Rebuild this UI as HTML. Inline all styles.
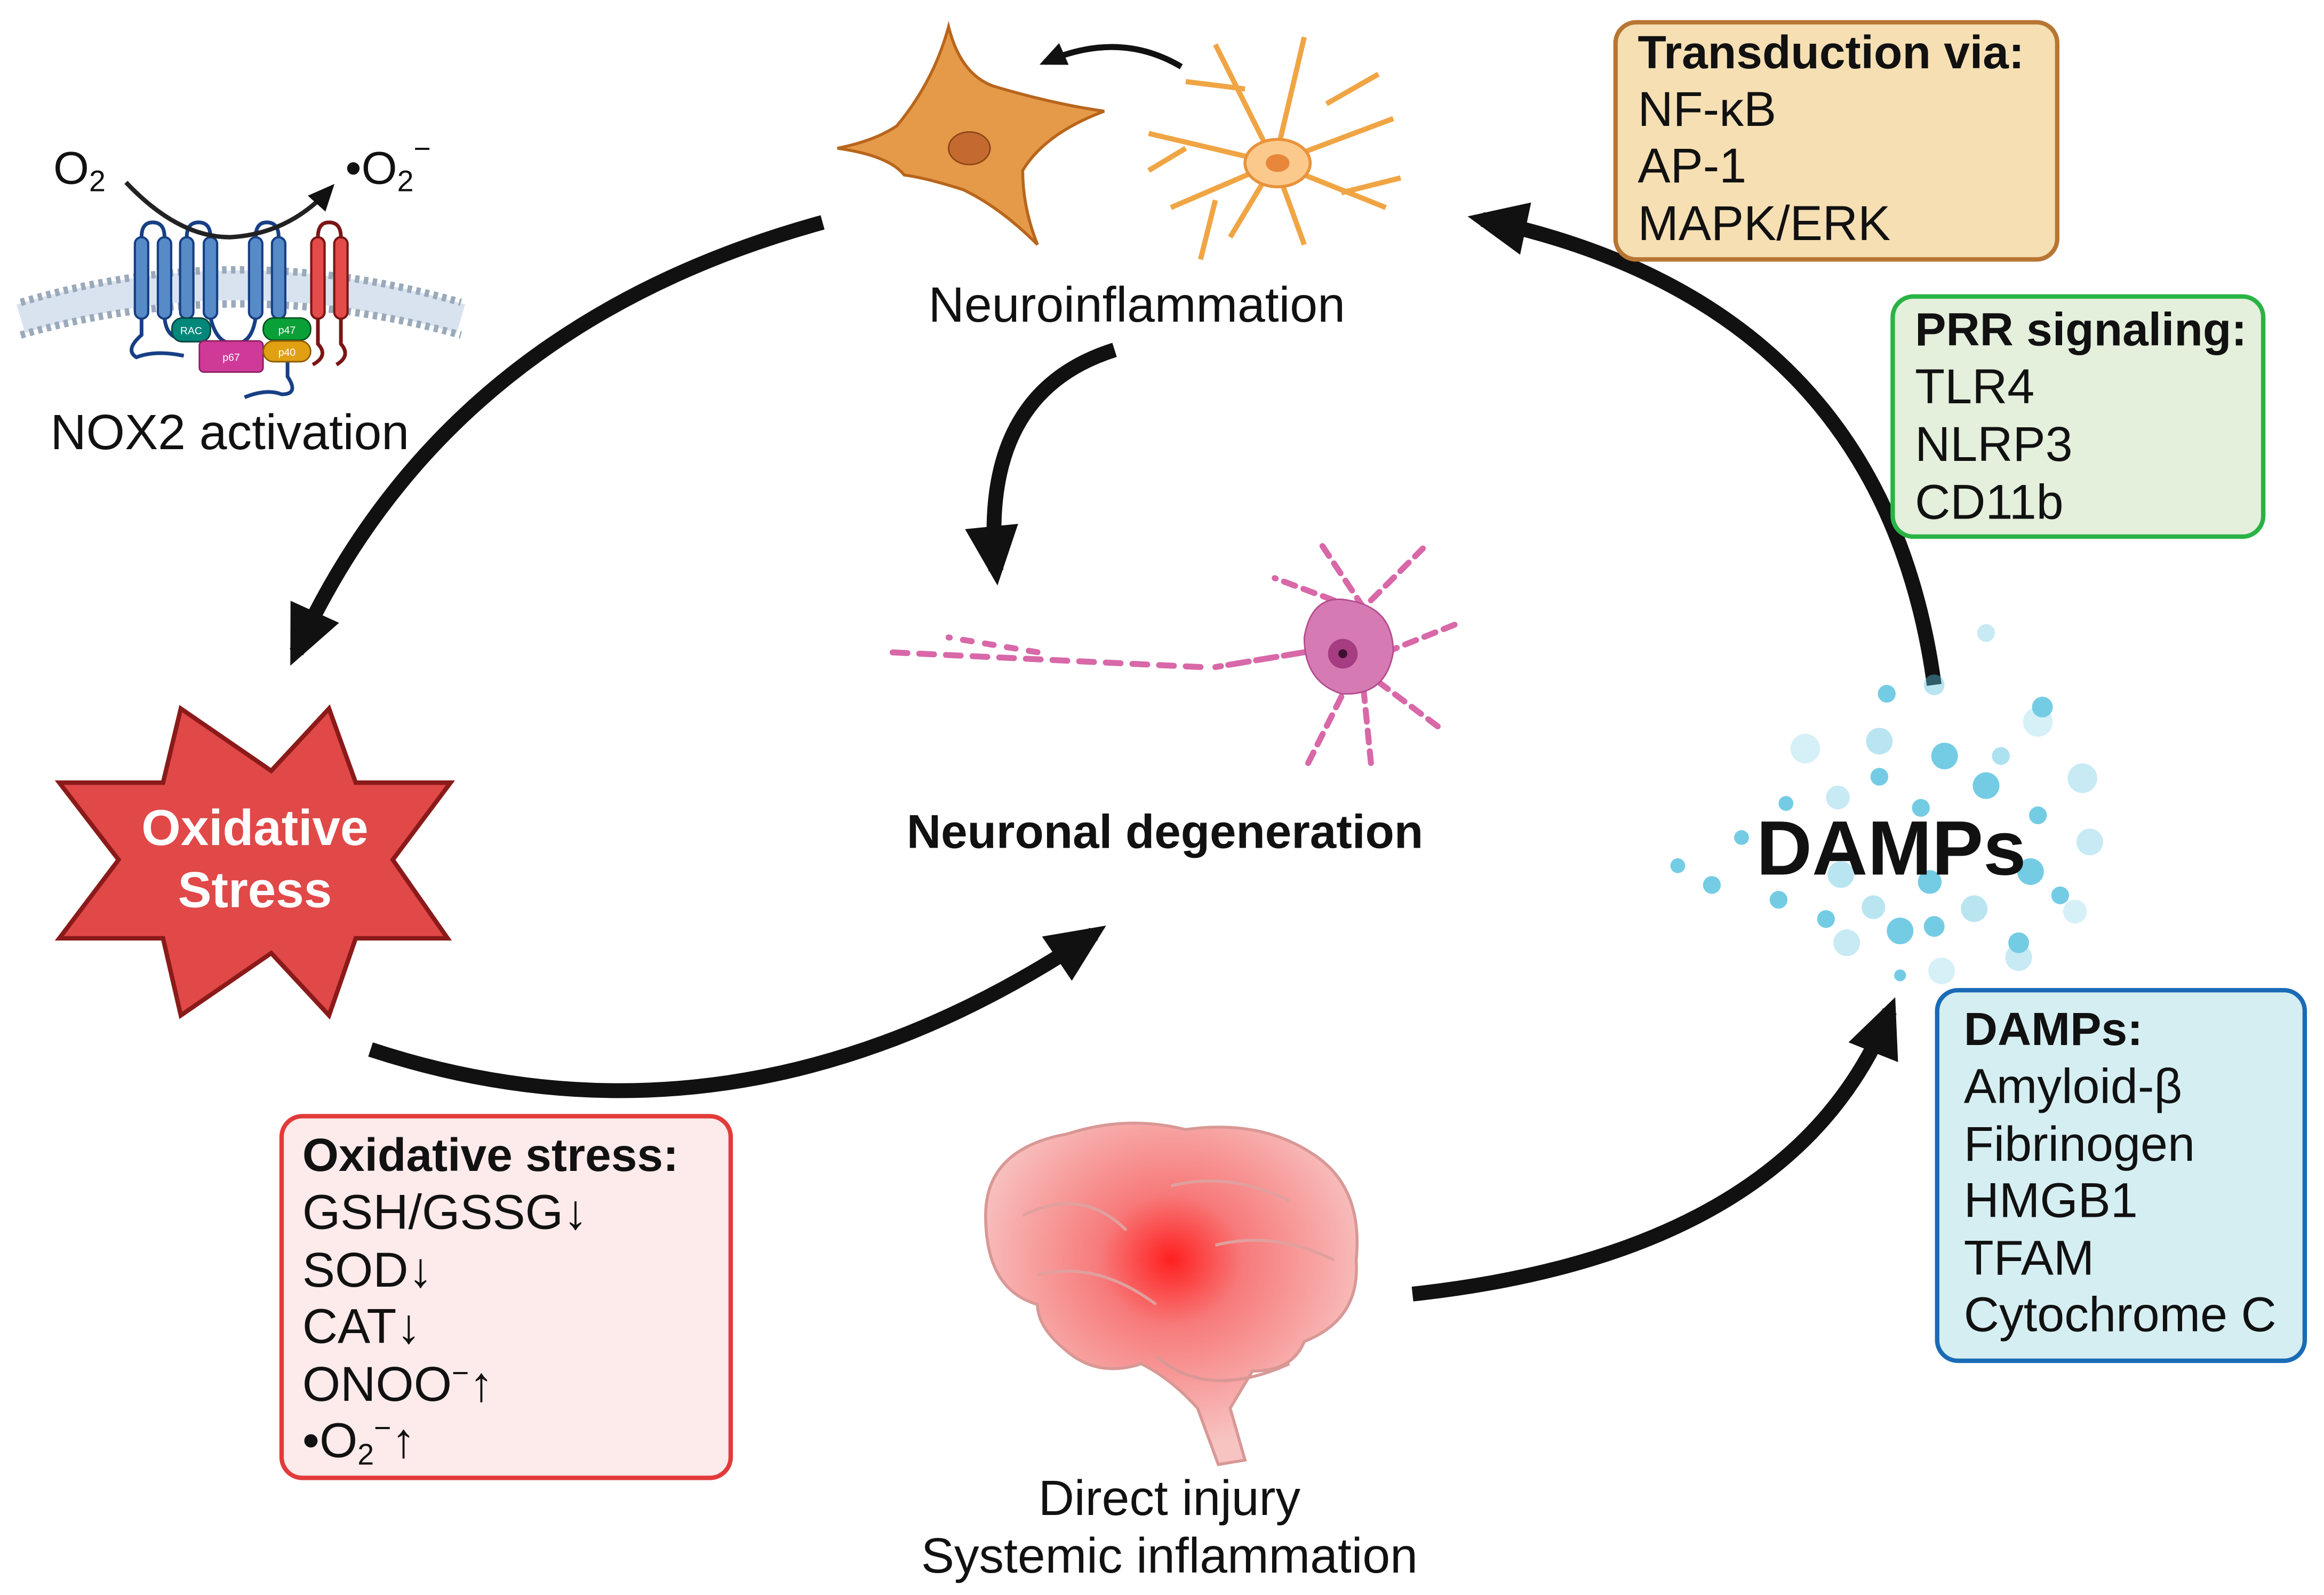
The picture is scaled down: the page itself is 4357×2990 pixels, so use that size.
<!DOCTYPE html>
<html><head><meta charset="utf-8"><style>
html,body{margin:0;padding:0;background:#fff;}
svg{display:block;}
text{font-family:"Liberation Sans",sans-serif;fill:#111;}
</style></head><body>
<svg width="4357" height="2990" viewBox="0 0 1568 1076" xmlns="http://www.w3.org/2000/svg">
<defs>
<marker id="ah" markerUnits="userSpaceOnUse" markerWidth="44" markerHeight="44" refX="30" refY="22" orient="auto">
<path d="M0,4 L40,22 L0,40 Z" fill="#111"/></marker>
<marker id="ah2" markerUnits="userSpaceOnUse" markerWidth="20" markerHeight="20" refX="14" refY="10" orient="auto">
<path d="M0,2 L18,10 L0,18 Z" fill="#111"/></marker>
<radialGradient id="br" cx="0.5" cy="0.4" r="0.55">
<stop offset="0" stop-color="#ff2020"/><stop offset="0.35" stop-color="#f77a7a"/><stop offset="1" stop-color="#f7c4c2"/></radialGradient>
</defs>

<!-- big arrows -->
<g fill="none" stroke="#111" stroke-width="10">
<path d="M555,150 Q300,220 200,440" marker-end="url(#ah)"/>
<path d="M752,236 Q660,265 672,385" marker-end="url(#ah)"/>
<path d="M250,708 Q500,790 738,630" marker-end="url(#ah)"/>
<path d="M953,873 Q1210,845 1275,682" marker-end="url(#ah)"/>
<path d="M1305,462 Q1270,205 1000,148" marker-end="url(#ah)"/>
</g>
<path d="M797,45 Q755,20 705,42" fill="none" stroke="#111" stroke-width="4" marker-end="url(#ah2)"/>

<!-- NOX2 membrane -->
<g>
<path d="M14,215 Q160,170 311,215" fill="none" stroke="#c9d7ea" stroke-width="20" opacity="0.7"/>
<path d="M14,204 Q160,160 311,204" fill="none" stroke="#9aaabb" stroke-width="5" stroke-dasharray="3 3"/>
<path d="M14,226 Q160,184 311,226" fill="none" stroke="#9aaabb" stroke-width="5" stroke-dasharray="3 3"/>
<g fill="none" stroke="#173f85" stroke-width="2.5">
<path d="M95.5,160 Q95.5,150 103,150 Q111,150 111,160"/><path d="M126,160 Q126,150 134,150 Q142,150 142,160"/>
<path d="M172.5,160 Q172.5,150 180,150 Q188,150 188,160"/>
<path d="M95.5,214 L95.5,226 Q84,236 92,241 Q105,236 124,240"/>
<path d="M111,214 Q112,226 120,228"/>
<path d="M142,214 Q146,232 158,232 Q170,232 172.5,214"/>
<path d="M194,244 L194,254 Q202,266 190,266 Q180,262 165,268"/></g>
<g fill="none" stroke="#7b1515" stroke-width="2.5">
<path d="M214.5,160 Q214.5,150 222,150 Q230,150 230,160"/>
<path d="M214.5,214 L214.5,232 Q222,240 211,246"/><path d="M230,214 L230,232 Q237,240 227,246"/></g>
<g fill="#568bc7" stroke="#173f85" stroke-width="1.5">
<rect x="91" y="160" width="9" height="55" rx="4.5"/><rect x="106.5" y="160" width="9" height="55" rx="4.5"/>
<rect x="121.5" y="160" width="9" height="55" rx="4.5"/><rect x="137.5" y="160" width="9" height="55" rx="4.5"/>
<rect x="168" y="160" width="9" height="55" rx="4.5"/><rect x="183.5" y="160" width="9" height="55" rx="4.5"/></g>
<g fill="#e44b4b" stroke="#7b1515" stroke-width="1.5">
<rect x="210" y="160" width="9" height="55" rx="4.5"/><rect x="225.5" y="160" width="9" height="55" rx="4.5"/></g>
<rect x="116" y="214.5" width="26" height="16" rx="7" fill="#00877a" stroke="#04443d"/>
<text x="129" y="225.5" font-size="7" text-anchor="middle" style="fill:#fff">RAC</text>
<rect x="134.5" y="230" width="43" height="21" rx="3" fill="#cf3a99" stroke="#8a1f5f"/>
<text x="156" y="243.5" font-size="7" text-anchor="middle" style="fill:#fff">p67</text>
<rect x="177.6" y="214.5" width="32" height="15" rx="7" fill="#0aa038" stroke="#05531c"/>
<text x="193.6" y="225" font-size="7" text-anchor="middle" style="fill:#fff">p47</text>
<rect x="177.6" y="230" width="32" height="14" rx="7" fill="#e0a012" stroke="#8e5a07"/>
<text x="193.6" y="240" font-size="7" text-anchor="middle" style="fill:#fff">p40</text>
</g>
<path d="M85,123 Q120,160 155,160 Q195,158 223,127" fill="none" stroke="#222" stroke-width="3" marker-end="url(#ah2)"/>
<text x="36" y="124" font-size="31">O<tspan font-size="20" dy="5">2</tspan></text>
<text x="233" y="124" font-size="31">•O<tspan font-size="20" dy="5">2</tspan><tspan font-size="20" dy="-22">−</tspan></text>
<text x="34" y="303" font-size="33.5">NOX2 activation</text>

<!-- glial cells -->
<g fill="#e59a4a" stroke="#b8651c" stroke-width="2">
<path d="M605,85 Q630,55 640,18 Q648,50 670,58 Q710,70 745,75 Q705,90 690,115 Q690,140 700,165 Q675,140 650,128 Q625,120 610,118 Q600,105 565,100 Q590,95 605,85 Z"/>
</g>
<ellipse cx="654" cy="100" rx="14" ry="11" fill="#c46a30" stroke="#8e4515"/>
<g fill="none" stroke="#f0a545" stroke-width="3.5">
<path d="M860,110 L820,30 M860,110 L880,25 M860,110 L940,80 M860,110 L935,140 M860,110 L880,165 M860,110 L830,160 M860,110 L790,140 M860,110 L775,90 M840,60 L800,55 M895,70 L930,50 M905,130 L945,120 M820,135 L810,175 M800,100 L775,115"/>
</g>
<ellipse cx="862" cy="110" rx="22" ry="16" fill="#fbc98c" stroke="#e8923a" stroke-width="2"/>
<ellipse cx="862" cy="110" rx="8" ry="6" fill="#e8873a"/>
<text x="767" y="217" font-size="33.5" text-anchor="middle">Neuroinflammation</text>

<!-- degenerating neuron -->
<g fill="none" stroke="#d868a8" stroke-width="4" stroke-linecap="round">
<path d="M880,440 L820,450" stroke-dasharray="14 5"/>
<path d="M810,450 L600,440" stroke-dasharray="10 8"/>
<path d="M700,440 L640,430" stroke-dasharray="6 9"/>
<path d="M920,410 L890,365 M925,405 L960,370 M935,440 L985,420 M930,460 L970,490 M905,470 L880,520 M920,465 L925,515 M900,405 L860,390" stroke-dasharray="8 6"/>
</g>
<path d="M880,430 Q885,400 910,405 Q940,410 940,440 Q935,470 905,468 Q880,460 880,430 Z" fill="#d67ab4" stroke="#b44c8c"/>
<circle cx="906" cy="441" r="10" fill="#a63c82"/><circle cx="906" cy="441" r="3" fill="#3d0f30"/>
<text x="786" y="572" font-size="32" font-weight="bold" text-anchor="middle">Neuronal degeneration</text>

<!-- star -->
<path d="M122,478 L183,520 L222,478 L240,528 L304,528 L265,580 L302,633 L240,633 L222,685 L183,643 L122,685 L110,633 L40,633 L80,580 L40,528 L110,528 Z" fill="#e14848" stroke="#8b1a1a" stroke-width="3"/>
<text x="172" y="570" font-size="34" font-weight="bold" text-anchor="middle" style="fill:#fff">Oxidative</text>
<text x="172" y="612" font-size="34" font-weight="bold" text-anchor="middle" style="fill:#fff">Stress</text>

<!-- boxes -->
<rect x="1090" y="15" width="298" height="160" rx="14" fill="#f5dfb3" stroke="#b87633" stroke-width="3"/>
<g font-size="33"><text x="1105" y="46" font-weight="bold" font-size="31.5">Transduction via:</text>
<text x="1105" y="85">NF-κB</text><text x="1105" y="123">AP-1</text><text x="1105" y="162">MAPK/ERK</text></g>

<rect x="1277" y="200" width="250" height="162" rx="14" fill="#e4efdc" stroke="#29b345" stroke-width="3"/>
<g font-size="33"><text x="1292" y="233" font-weight="bold" font-size="31.5">PRR signaling:</text>
<text x="1292" y="272">TLR4</text><text x="1292" y="311">NLRP3</text><text x="1292" y="350">CD11b</text></g>

<rect x="1307" y="668" width="248" height="250" rx="14" fill="#d5eef2" stroke="#1a6bb5" stroke-width="3"/>
<g font-size="33"><text x="1325" y="705" font-weight="bold" font-size="31.5">DAMPs:</text>
<text x="1325" y="744">Amyloid-β</text><text x="1325" y="783">Fibrinogen</text><text x="1325" y="821">HMGB1</text>
<text x="1325" y="860">TFAM</text><text x="1325" y="898">Cytochrome C</text></g>

<rect x="190" y="753" width="303" height="244" rx="14" fill="#fdeaea" stroke="#e33a3a" stroke-width="3"/>
<g font-size="33"><text x="204" y="790" font-weight="bold" font-size="31.5">Oxidative stress:</text>
<text x="204" y="829">GSH/GSSG↓</text><text x="204" y="868">SOD↓</text><text x="204" y="906">CAT↓</text>
<text x="204" y="945">ONOO<tspan font-size="20" dy="-12">−</tspan><tspan dy="12">↑</tspan></text>
<text x="204" y="983">•O<tspan font-size="20" dy="5">2</tspan><tspan font-size="20" dy="-18">−</tspan><tspan dy="13">↑</tspan></text></g>

<!-- DAMP bubbles -->
<g fill="#5cc4e0" opacity="0.85">
<circle cx="1340" cy="427" r="6" opacity="0.4"/><circle cx="1273" cy="468" r="6"/><circle cx="1305" cy="462" r="7" opacity="0.5"/>
<circle cx="1378" cy="477" r="7"/><circle cx="1375" cy="487" r="10" opacity="0.3"/><circle cx="1218" cy="505" r="10" opacity="0.3"/>
<circle cx="1268" cy="500" r="9" opacity="0.5"/><circle cx="1312" cy="510" r="9"/><circle cx="1340" cy="530" r="9"/>
<circle cx="1405" cy="525" r="10" opacity="0.4"/><circle cx="1350" cy="510" r="6" opacity="0.6"/><circle cx="1268" cy="524" r="6"/>
<circle cx="1205" cy="542" r="5"/><circle cx="1240" cy="538" r="8" opacity="0.4"/><circle cx="1296" cy="545" r="6"/>
<circle cx="1375" cy="550" r="6"/><circle cx="1410" cy="568" r="9" opacity="0.4"/><circle cx="1132" cy="584" r="5"/>
<circle cx="1155" cy="597" r="6"/><circle cx="1175" cy="565" r="5"/><circle cx="1370" cy="588" r="9"/>
<circle cx="1242" cy="590" r="9" opacity="0.5"/><circle cx="1302" cy="595" r="8"/><circle cx="1200" cy="607" r="6"/>
<circle cx="1390" cy="604" r="6"/><circle cx="1400" cy="615" r="8" opacity="0.3"/><circle cx="1232" cy="620" r="6"/>
<circle cx="1264" cy="612" r="8" opacity="0.5"/><circle cx="1332" cy="613" r="9" opacity="0.5"/><circle cx="1305" cy="625" r="7"/>
<circle cx="1246" cy="636" r="9" opacity="0.4"/><circle cx="1282" cy="628" r="9"/><circle cx="1362" cy="636" r="7"/>
<circle cx="1362" cy="646" r="9" opacity="0.4"/><circle cx="1310" cy="655" r="9" opacity="0.3"/><circle cx="1282" cy="658" r="4"/>
</g>
<text x="1185" y="590" font-size="52" font-weight="bold">DAMPs</text>

<!-- brain -->
<path d="M665,820 Q665,775 720,765 Q760,752 800,762 Q850,755 885,778 Q920,800 915,850 Q918,890 880,905 Q872,925 845,925 L830,950 L840,985 L822,988 L808,950 Q790,930 770,920 Q740,930 718,910 Q700,895 700,880 Q665,870 665,820 Z" fill="url(#br)" stroke="#d89895" stroke-width="2"/>
<path d="M780,915 Q815,945 870,920" fill="none" stroke="#d89895" stroke-width="2"/>
<path d="M690,820 Q730,800 760,830 M700,860 Q740,850 780,880 M790,800 Q830,790 870,810 M820,840 Q860,830 900,850" fill="none" stroke="#e0a09e" stroke-width="2"/>
<text x="789" y="1022" font-size="33.5" text-anchor="middle">Direct injury</text>
<text x="789" y="1061" font-size="33.5" text-anchor="middle">Systemic inflammation</text>
</svg>
</body></html>
